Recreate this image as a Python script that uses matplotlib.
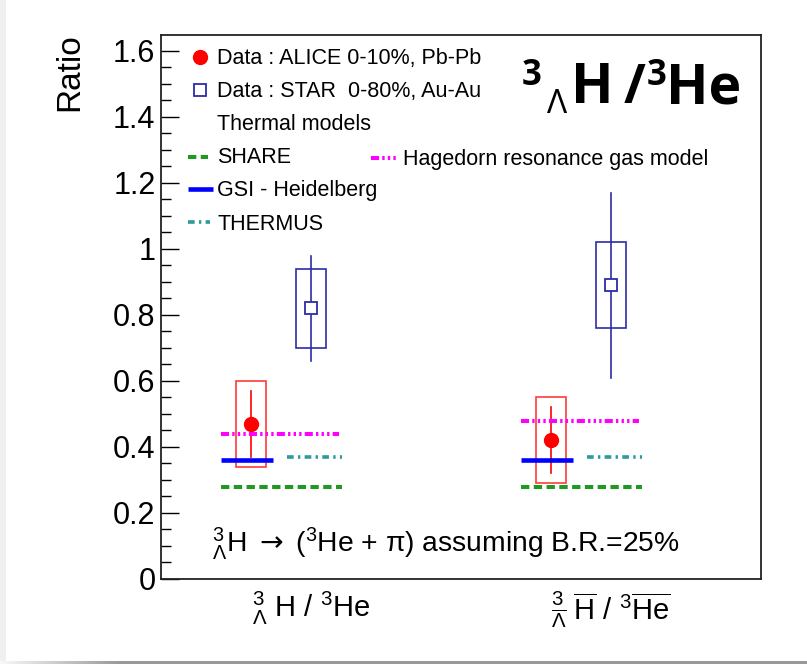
import numpy as np
import matplotlib
matplotlib.use("Agg")
import matplotlib.pyplot as plt
from matplotlib.patches import Rectangle
from matplotlib.lines import Line2D

plt.rcParams['font.family'] = ['Liberation Sans', 'DejaVu Sans']
plt.rcParams['mathtext.fontset'] = 'custom'
plt.rcParams['mathtext.rm'] = 'Liberation Sans'
plt.rcParams['mathtext.it'] = 'Liberation Sans:italic'
plt.rcParams['mathtext.bf'] = 'Liberation Sans:bold'
plt.rcParams['mathtext.sf'] = 'DejaVu Sans'
plt.rcParams['lines.scale_dashes'] = False

# ---- data ----
categories = [r"${}^{3}_{\Lambda}$ H / ${}^{3}$He",
              r"${}^{3}_{\overline{\Lambda}}$ $\overline{\mathrm{H}}$ / ${}^{3}\overline{\mathrm{He}}$"]
cat_pos = [0.25, 0.75]

alice_val = [0.47, 0.42]
alice_stat = [0.10, 0.10]
alice_syst = [0.13, 0.13]

star_val = [0.82, 0.89]
star_stat = [0.16, 0.28]
star_syst = [0.12, 0.13]

share_val = [0.28, 0.28]
gsi_val = [0.36, 0.36]
thermus_val = [0.37, 0.37]
hagedorn_val = [0.44, 0.48]

yticks = [0, 0.2, 0.4, 0.6, 0.8, 1.0, 1.2, 1.4, 1.6]
ytick_labels = ['0', '0.2', '0.4', '0.6', '0.8', '1', '1.2', '1.4', '1.6']

# ---- styles ----
RED = '#ff0000'
RED_BOX = '#ff3b3b'
NAVY = '#2c2ca6'
GREEN = '#1f991f'
BLUE = '#0000ff'
TEAL = '#2e9a9a'
MAGENTA = '#ff00ff'

share_style = dict(color=GREEN, lw=2.9, dashes=(6.0, 3.2), solid_capstyle='butt', dash_capstyle='butt')
gsi_style = dict(color=BLUE, lw=3.3, solid_capstyle='butt')
thermus_style = dict(color=TEAL, lw=2.6, dashes=(4.8, 3.1, 1.7, 3.1), dash_capstyle='butt')
hag_style = dict(color=MAGENTA, lw=2.9, dashes=(5.8, 2.3, 1.7, 2.3, 1.7, 2.3, 1.7, 2.3), dash_capstyle='butt')

W, H = 807, 664
fig = plt.figure(figsize=(W / 100, H / 100), dpi=100)
fig.patch.set_facecolor('white')

L, R, T, B = 161, 761, 35, 579
ax = fig.add_axes([L / W, 1 - B / H, (R - L) / W, (B - T) / H])
ax.set_xlim(0, 1)
ax.set_ylim(0, 1.648)

# model predictions (horizontal segments around each category)
for c, v in zip(cat_pos, share_val):
    ax.plot([c - 0.15, c + 0.052], [v, v], **share_style, zorder=3)
for c, v in zip(cat_pos, hagedorn_val):
    ax.plot([c - 0.15, c + 0.047], [v, v], **hag_style, zorder=3)
for c, v in zip(cat_pos, thermus_val):
    ax.plot([c - 0.04, c + 0.052], [v, v], **thermus_style, zorder=3)

# ALICE data
for c, v, st, sy in zip(cat_pos, alice_val, alice_stat, alice_syst):
    x = c - 0.1
    ax.add_patch(Rectangle((x - 0.025, v - sy), 0.05, 2 * sy, fill=False,
                           ec=RED_BOX, lw=1.2, zorder=2))
    ax.plot([x, x], [v - st, v + st], color=RED, lw=1.2, zorder=2)
    ax.plot([x], [v], 'o', color=RED, ms=10, zorder=4)

for c, v in zip(cat_pos, gsi_val):
    ax.plot([c - 0.15, c - 0.064], [v, v], **gsi_style, zorder=5)

# STAR data
for c, v, st, sy in zip(cat_pos, star_val, star_stat, star_syst):
    x = c
    ax.add_patch(Rectangle((x - 0.025, v - sy), 0.05, 2 * sy, fill=False,
                           ec=NAVY, lw=1.2, zorder=2))
    ax.plot([x, x], [v - st, v + st], color=NAVY, lw=1.2, zorder=2)
    ax.plot([x], [v], 's', mfc='white', mec=NAVY, mew=1.3, ms=9, zorder=4)

# axes styling
for s in ax.spines.values():
    s.set_linewidth(1.3)
    s.set_color('#222222')
ax.set_yticks(yticks)
ax.set_yticklabels(ytick_labels)
ax.set_yticks(np.arange(0, 1.65, 0.05), minor=True)
ax.tick_params(axis='y', which='major', direction='in', length=13, width=1.0,
               labelsize=22, pad=4, right=False)
ax.tick_params(axis='y', which='minor', direction='in', length=7, width=1.0, right=False)
ax.set_xticks(cat_pos)
ax.set_xticklabels(categories)
ax.tick_params(axis='x', which='major', length=0, labelsize=21, pad=8)

# legend drawn in pixel layout
def frac(px, py):
    return ((px - L) / (R - L), (B - py) / (B - T))

leg_fs = 15.5
def leg_text(px, py, s):
    x, y = frac(px, py + 7)
    ax.text(x, y, s, transform=ax.transAxes, fontsize=leg_fs, va='baseline', ha='left')

def leg_line(x0, x1, py, style):
    (a, y), (b, _) = frac(x0, py), frac(x1, py)
    ax.add_line(Line2D([a, b], [y, y], transform=ax.transAxes, clip_on=False, **style))

x, y = frac(200, 57)
ax.plot([x], [y], 'o', color=RED, ms=10, transform=ax.transAxes, clip_on=False)
leg_text(217, 57, "Data : ALICE 0-10%, Pb-Pb")
x, y = frac(200, 90)
ax.plot([x], [y], 's', mfc='white', mec=NAVY, mew=1.3, ms=9, transform=ax.transAxes, clip_on=False)
leg_text(217, 90, "Data : STAR  0-80%, Au-Au")
leg_text(217, 123, "Thermal models")
leg_line(188, 208, 157, share_style)
leg_text(217, 156, "SHARE")
leg_line(188, 213, 189, gsi_style)
leg_text(217, 189, "GSI - Heidelberg")
leg_line(188, 210, 222, thermus_style)
leg_text(217, 223, "THERMUS")
leg_line(371, 397, 158, hag_style)
leg_text(403, 158, "Hagedorn resonance gas model")

# branching-ratio note
x, y = frac(212, 552)
ax.text(x, y, r"${}^{3}_{\Lambda}$H $\mathsf{\rightarrow}$ (${}^{3}$He + $\mathrm{\pi}$) assuming B.R.=25%",
        transform=ax.transAxes, fontsize=20.3, va='baseline', ha='left')

# y label
fig.text(70 / W, 1 - 33 / H, "Ratio", rotation=90, ha='center', va='top', fontsize=24)

# title
tfam = ['Open Sans', 'DejaVu Sans']
def ftext(px, py, s, **kw):
    fig.text(px / W, 1 - py / H, s, va='baseline', ha='left', family=tfam, **kw)

ftext(522, 85, "3", fontsize=25, weight='bold')
ftext(547, 113, "\u039b", fontsize=24)
ftext(571, 103, "H", fontsize=40, weight='bold')
ftext(624, 103, "/", fontsize=38, weight='bold')
ftext(647, 85, "3", fontsize=25, weight='bold')
ftext(666, 103, "He", fontsize=40, weight='bold')

# page edge shading
edge = fig.add_axes([0, 0, 1, 3 / H])
grad = np.linspace(0.97, 0.6, 120)
row = np.concatenate([grad, np.full(W - 120, 0.6)])
edge.imshow(np.tile(row, (3, 1)), cmap='gray', vmin=0, vmax=1, aspect='auto',
            extent=[0, W, 0, 3])
edge.set_axis_off()
fig.add_artist(Rectangle((0, 0), 6 / W, 1, transform=fig.transFigure,
                         fc='#f0f0f0', ec='none', zorder=-1))

fig.savefig("out.png", dpi=100)
